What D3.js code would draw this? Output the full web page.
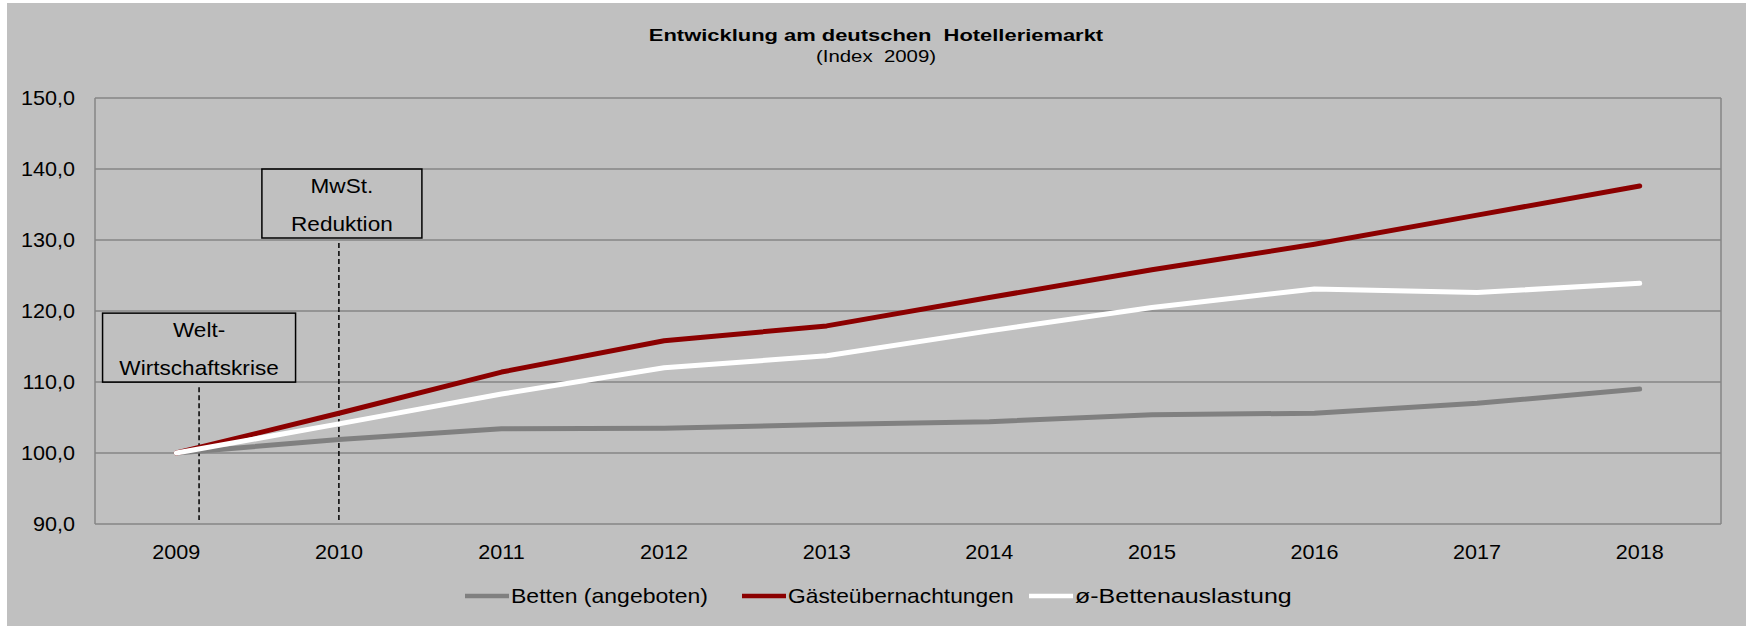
<!DOCTYPE html>
<html>
<head>
<meta charset="utf-8">
<script src="https://cdn.jsdelivr.net/npm/d3@7"></script>
<style>
  html, body { margin: 0; padding: 0; background: #fff; }
  text { font-family: "Liberation Sans", Arial, sans-serif; fill: #000; }
</style>
</head>
<body>
<div id="chart"></div>
<script>
const years = ["2009", "2010", "2011", "2012", "2013", "2014", "2015", "2016", "2017", "2018"];
const betten = [100.0, 101.9, 103.4, 103.5, 104.0, 104.4, 105.4, 105.6, 107.0, 109.0];
const uebernachtungen = [100.0, 105.6, 111.4, 115.8, 117.9, 121.9, 125.8, 129.4, 133.5, 137.6];
const auslastung = [100.0, 104.1, 108.3, 112.0, 113.7, 117.2, 120.5, 123.1, 122.6, 123.9];
const yTicks = [90, 100, 110, 120, 130, 140, 150];
const seriesNames = ["Betten (angeboten)", "Gästeübernachtungen", "ø-Bettenauslastung"];
const annotations = [
  { lines: ["Welt-", "Wirtschaftskrise"], year: "2009", shift: 0.14, top: 119.7 },
  { lines: ["MwSt.", "Reduktion"], year: "2010", shift: 0, top: 140 }
];

const width = 1753, height = 626,
      margin = ({ top: 98, right: 32, bottom: 102, left: 95 });

const colors = ["#808080", "#8b0000", "#ffffff"];
const boxWidths = [193, 160];
const boxOffsets = [0, 3];
const legendX = [465, 742, 1029];
const legendStretch = [1.15, 1.14, 1.25];

const svg = d3.select("#chart")
  .append("svg")
  .attr("width", width)
  .attr("height", height);

// chart background
svg.append("rect")
  .attr("x", 7).attr("y", 3)
  .attr("width", 1739).attr("height", 623)
  .attr("fill", "#c0c0c0");

let x = d3.scaleBand()
  .domain(years)
  .range([margin.left, width - margin.right])
  .padding(0);

let y = d3.scaleLinear()
  .domain([90, 150])
  .range([height - margin.bottom, margin.top]);

let cx = d => x(d) + x.bandwidth() / 2;

// stretched text helper (source chart is horizontally stretched)
function label(g, str, px, py, opts) {
  return g.append("text")
    .text(str)
    .attr("transform", `translate(${px},${py}) scale(${opts.sx || 1.1},1)`)
    .attr("text-anchor", opts.anchor || "middle")
    .attr("font-size", opts.size || 19)
    .attr("font-weight", opts.weight || "normal");
}

// gridlines
svg.append("g")
  .selectAll("line")
  .data(yTicks)
  .join("line")
  .attr("x1", margin.left)
  .attr("x2", width - margin.right)
  .attr("y1", d => y(d))
  .attr("y2", d => y(d))
  .attr("stroke", "#868686")
  .attr("stroke-width", 1.5);

// plot border sides
svg.append("g")
  .selectAll("line")
  .data([margin.left, width - margin.right])
  .join("line")
  .attr("x1", d => d).attr("x2", d => d)
  .attr("y1", y(150)).attr("y2", y(90))
  .attr("stroke", "#868686")
  .attr("stroke-width", 1.5);

// y axis labels
let yl = svg.append("g");
for (let t of yTicks) {
  label(yl, d3.format(".1f")(t).replace(".", ","), 75, y(t) + 7, { anchor: "end", size: 20, sx: 1.08 });
}

// x axis labels
let xl = svg.append("g");
for (let yr of years) {
  label(xl, yr, cx(yr), 559, { size: 20, sx: 1.08 });
}

// annotations
annotations.forEach((a, i) => {
  let lx = x(a.year) + x.bandwidth() * (0.5 + a.shift);
  let bx = lx + boxOffsets[i];
  let top = y(a.top);
  let g = svg.append("g");
  g.append("rect")
    .attr("x", bx - boxWidths[i] / 2)
    .attr("y", top)
    .attr("width", boxWidths[i])
    .attr("height", 69)
    .attr("fill", "none")
    .attr("stroke", "#000")
    .attr("stroke-width", 1.5);
  label(g, a.lines[0], bx, top + 24, { size: 20, sx: 1.13 });
  label(g, a.lines[1], bx, top + 62, { size: 20, sx: 1.13 });
  g.append("line")
    .attr("x1", lx).attr("x2", lx)
    .attr("y1", top + 74)
    .attr("y2", y(90) - 4)
    .attr("stroke", "#000")
    .attr("stroke-width", 1.5)
    .attr("stroke-dasharray", "5,3");
});

// series lines
let line = d3.line()
  .x((d, i) => cx(years[i]))
  .y(d => y(d));

[betten, uebernachtungen, auslastung].forEach((s, i) => {
  svg.append("path")
    .datum(s)
    .attr("fill", "none")
    .attr("stroke", colors[i])
    .attr("stroke-width", 5)
    .attr("stroke-linecap", "round")
    .attr("stroke-linejoin", "round")
    .attr("d", line);
});

// title
let tg = svg.append("g");
label(tg, "Entwicklung am deutschen  Hotelleriemarkt", 876, 41, { size: 17, weight: "bold", sx: 1.29 })
  .style("white-space", "pre");
label(tg, "(Index  2009)", 876, 62, { size: 17, sx: 1.2 })
  .style("white-space", "pre");

// legend
let lg = svg.append("g");
seriesNames.forEach((name, i) => {
  lg.append("line")
    .attr("x1", legendX[i]).attr("x2", legendX[i] + 44)
    .attr("y1", 596).attr("y2", 596)
    .attr("stroke", colors[i])
    .attr("stroke-width", 4.5);
  label(lg, name, legendX[i] + 46, 603, { anchor: "start", size: 20, sx: legendStretch[i] });
});
</script>
</body>
</html>
